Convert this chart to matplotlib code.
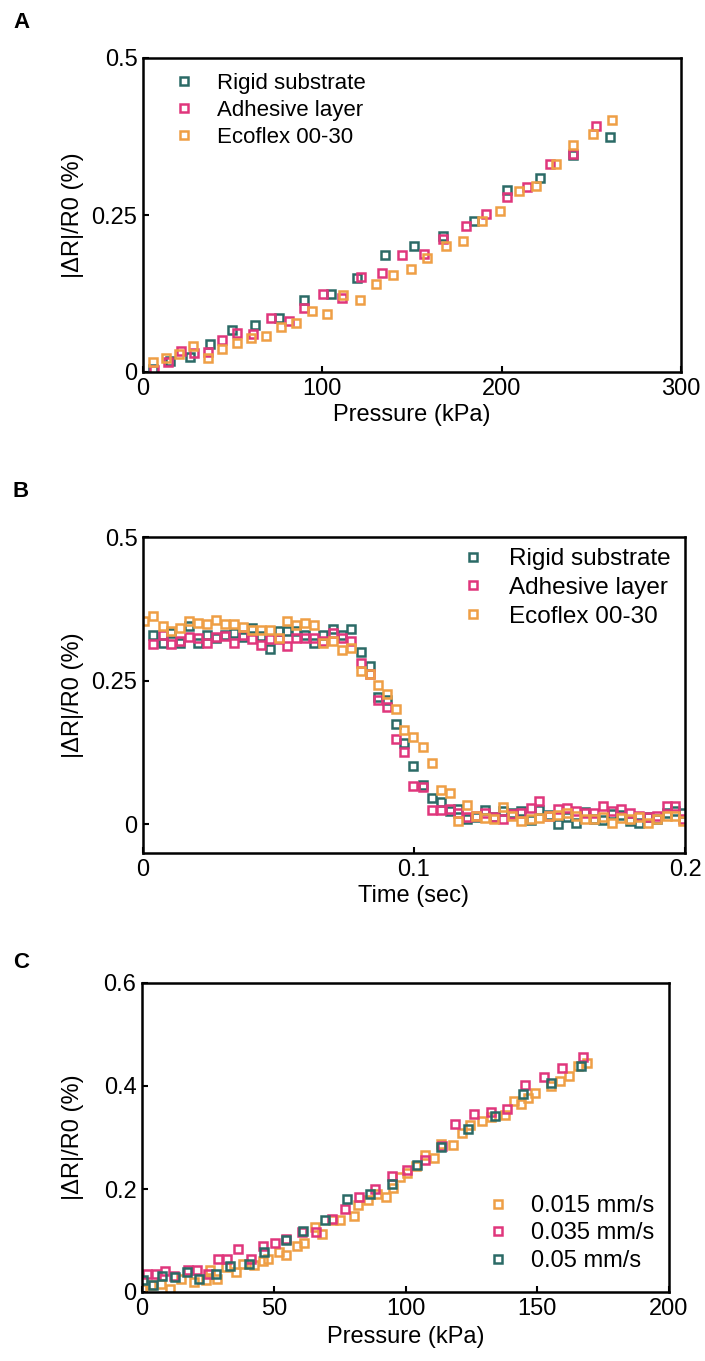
import matplotlib
matplotlib.use("Agg")
import matplotlib.pyplot as plt

plt.rcParams['font.family'] = ['Liberation Sans', 'DejaVu Sans']

TEAL = '#2b6a66'
PINK = '#e0367c'
ORANGE = '#ef9f45'

# ---------------- Panel A data ----------------
a_rigid_x = [5.6, 15, 26, 37.5, 49.5, 62.4, 75.8, 89.7, 104.7, 119.6, 135.2, 151, 167.5, 184.8, 202.8, 221.3, 239.7, 260.4]
a_rigid_y = [0.005, 0.0175, 0.024, 0.045, 0.067, 0.075, 0.086, 0.114, 0.125, 0.149, 0.186, 0.200, 0.216, 0.240, 0.290, 0.309, 0.346, 0.375]
a_adh_x = [6, 14, 21, 28.3, 36, 44.3, 52.2, 61.4, 71.4, 81.4, 90, 100.1, 110.7, 121.6, 133.2, 144.6, 156.5, 167.5, 179.9, 191, 202.8, 214, 226.7, 239.7, 252.8]
a_adh_y = [0.003, 0.016, 0.033, 0.031, 0.032, 0.051, 0.062, 0.061, 0.086, 0.081, 0.102, 0.125, 0.118, 0.152, 0.158, 0.187, 0.188, 0.212, 0.232, 0.251, 0.279, 0.294, 0.331, 0.347, 0.391]
a_eco_x = [5.6, 13, 20, 28, 36, 43.9, 52.2, 60.4, 68.8, 76.8, 85.1, 94.1, 102.7, 111.3, 121, 130.2, 139.6, 149.2, 158.5, 168.9, 178.5, 189, 198.8, 209.4, 219.3, 230.3, 239.7, 250.8, 261.6]
a_eco_y = [0.016, 0.023, 0.028, 0.042, 0.023, 0.036, 0.046, 0.054, 0.058, 0.071, 0.078, 0.097, 0.093, 0.122, 0.114, 0.140, 0.155, 0.164, 0.182, 0.200, 0.209, 0.240, 0.257, 0.289, 0.296, 0.332, 0.362, 0.379, 0.402]

# ---------------- Panel B data ----------------
b_rigid_t = [0.0037, 0.0072, 0.0105, 0.0138, 0.0171, 0.0204, 0.0237, 0.0270, 0.0303, 0.0336,
             0.0368, 0.0401, 0.0434, 0.0467, 0.0500, 0.0533, 0.0566, 0.0599, 0.0632, 0.0664,
             0.0701, 0.0734, 0.0767, 0.0803, 0.0836, 0.0866, 0.0899, 0.0932, 0.0964, 0.0997,
             0.1033, 0.1066, 0.1099, 0.1132, 0.1164, 0.1197, 0.1230, 0.1263, 0.1296, 0.1329,
             0.1362, 0.1395, 0.1432, 0.1461, 0.1497, 0.1533, 0.1566, 0.1599, 0.1632, 0.1664,
             0.1697, 0.1730, 0.1763, 0.1796, 0.1829, 0.1862, 0.1895, 0.1932, 0.1964, 0.1993]
b_rigid_y = [0.330, 0.315, 0.333, 0.316, 0.345, 0.316, 0.330, 0.325, 0.330, 0.333,
             0.326, 0.342, 0.328, 0.305, 0.336, 0.337, 0.336, 0.330, 0.315, 0.330,
             0.340, 0.329, 0.340, 0.300, 0.276, 0.222, 0.216, 0.175, 0.141, 0.102,
             0.069, 0.046, 0.039, 0.023, 0.026, 0.010, 0.013, 0.024, 0.013, 0.023,
             0.020, 0.023, 0.007, 0.024, 0.016, 0.001, 0.013, 0.003, 0.021, 0.010,
             0.007, 0.018, 0.016, 0.006, 0.003, 0.013, 0.009, 0.020, 0.023, 0.020]
b_adh_t = b_rigid_t
b_adh_y = [0.313, 0.330, 0.313, 0.319, 0.326, 0.325, 0.316, 0.326, 0.328, 0.316,
           0.329, 0.322, 0.312, 0.322, 0.322, 0.310, 0.325, 0.324, 0.325, 0.319,
           0.333, 0.325, 0.319, 0.280, 0.261, 0.216, 0.204, 0.149, 0.126, 0.066,
           0.065, 0.024, 0.024, 0.026, 0.020, 0.013, 0.014, 0.020, 0.013, 0.009,
           0.018, 0.020, 0.029, 0.041, 0.014, 0.026, 0.029, 0.023, 0.020, 0.020,
           0.032, 0.023, 0.026, 0.020, 0.014, 0.013, 0.014, 0.032, 0.032, 0.009]
b_eco_t = [0.0003] + b_rigid_t
b_eco_y = [0.353, 0.362, 0.345, 0.336, 0.342, 0.353, 0.351, 0.348, 0.355, 0.349, 0.349,
           0.343, 0.339, 0.339, 0.339, 0.325, 0.353, 0.347, 0.351, 0.347, 0.316,
           0.319, 0.303, 0.306, 0.267, 0.261, 0.243, 0.227, 0.200, 0.164, 0.152,
           0.134, 0.106, 0.060, 0.055, 0.006, 0.033, 0.014, 0.011, 0.009, 0.030,
           0.014, 0.006, 0.009, 0.011, 0.014, 0.017, 0.020, 0.014, 0.010, 0.009,
           0.013, 0.003, 0.011, 0.009, 0.013, 0.003, 0.009, 0.014, 0.014, 0.006]

# ---------------- Panel C data ----------------
c_015_x = [0, 3.4, 7.4, 10.8, 14.9, 19.6, 24.3, 25.7, 28.4, 31.8, 35.8, 38.5, 42.6, 45.9, 48, 52, 54.7,
           58.8, 61.5, 65.5, 68.2, 72.3, 75, 80.4, 81.8, 85.8, 89.2, 92.6, 95.3, 98, 100.7, 104.1,
           107.4, 110.8, 113.5, 118.2, 121.6, 124.3, 129, 132.4, 137.8, 141.2, 143.9, 146.6, 149.3,
           155.4, 158.8, 162.2, 165.5, 168.9]
c_015_y = [0.006, 0.013, 0.016, 0.006, 0.026, 0.019, 0.023, 0.042, 0.026, 0.048, 0.039, 0.055, 0.052,
           0.061, 0.065, 0.077, 0.071, 0.090, 0.095, 0.127, 0.113, 0.139, 0.140, 0.148, 0.168, 0.179,
           0.190, 0.185, 0.202, 0.223, 0.232, 0.245, 0.266, 0.261, 0.287, 0.286, 0.308, 0.325, 0.332,
           0.340, 0.344, 0.371, 0.366, 0.377, 0.387, 0.400, 0.410, 0.419, 0.439, 0.445]
c_035_x = [2, 5.4, 8.8, 12.2, 17.6, 20.9, 25, 28.8, 32.4, 36.5, 41.2, 45.9, 50.4, 54.7, 60.8, 66.2, 72,
           77, 82.4, 88.5, 95, 100.7, 107.4, 113.9, 118.9, 126.1, 132.4, 138.5, 145.3, 152.4, 159.5, 167.3]
c_035_y = [0.035, 0.035, 0.041, 0.032, 0.042, 0.042, 0.034, 0.065, 0.065, 0.083, 0.065, 0.090, 0.095,
           0.103, 0.117, 0.117, 0.142, 0.161, 0.185, 0.200, 0.226, 0.237, 0.256, 0.284, 0.326, 0.345,
           0.350, 0.355, 0.402, 0.417, 0.435, 0.456]
c_05_x = [0.4, 4.1, 7.7, 12.4, 16.9, 21.6, 28, 33.4, 40.5, 46.4, 54.5, 61.2, 69.3, 77.7, 86.5, 95,
          104.5, 113.5, 123.6, 133.8, 144.6, 155.4, 166.5]
c_05_y = [0.023, 0.013, 0.032, 0.029, 0.039, 0.026, 0.035, 0.050, 0.055, 0.077, 0.101, 0.119, 0.140,
          0.181, 0.190, 0.210, 0.247, 0.282, 0.316, 0.342, 0.384, 0.406, 0.439]

W, H = 705, 1361
fig = plt.figure(figsize=(W / 100, H / 100), dpi=100)


def px_axes(l, r, t, b):
    return fig.add_axes([l / W, 1 - b / H, (r - l) / W, (b - t) / H])


MS = 5.8
MEW = 1.8
FS = 17


def pts(ax, x, y, c, label):
    ax.plot(x, y, ls='none', marker='s', ms=MS, mfc='none', mec=c, mew=MEW, label=label)


def style(ax, left_px):
    for s in ax.spines.values():
        s.set_linewidth(1.8)
    ax.tick_params(direction='in', length=4, width=1.5, labelsize=FS, pad=4)
    bb = ax.get_position()
    # right edge of the rotated y label at ~84 px from the figure's left edge
    ax.yaxis.set_label_coords((84 - left_px) / (bb.width * W), 0.5)


axA = px_axes(143, 681, 58, 372)
pts(axA, a_rigid_x, a_rigid_y, TEAL, 'Rigid substrate')
pts(axA, a_adh_x, a_adh_y, PINK, 'Adhesive layer')
pts(axA, a_eco_x, a_eco_y, ORANGE, 'Ecoflex 00-30')
axA.set_xlim(0, 300)
axA.set_ylim(0, 0.5)
axA.set_xticks([0, 100, 200, 300])
axA.set_yticks([0, 0.25, 0.5])
axA.set_yticklabels(['0', '0.25', '0.5'])
axA.set_xlabel('Pressure (kPa)', fontsize=FS, labelpad=3)
axA.set_ylabel('|ΔR|/R0 (%)', fontsize=FS)
style(axA, 143)
axA.legend(loc='upper left', bbox_to_anchor=(173 / W, 1 - 73 / H), bbox_transform=fig.transFigure,
           frameon=False, fontsize=16, handlelength=1.0, handletextpad=0.99, labelspacing=0.26,
           borderpad=0, borderaxespad=0, numpoints=1)

axB = px_axes(143, 685, 537, 853)
pts(axB, b_rigid_t, b_rigid_y, TEAL, 'Rigid substrate')
pts(axB, b_adh_t, b_adh_y, PINK, 'Adhesive layer')
pts(axB, b_eco_t, b_eco_y, ORANGE, 'Ecoflex 00-30')
axB.set_xlim(0, 0.2)
axB.set_ylim(-0.05, 0.5)
axB.set_xticks([0, 0.1, 0.2])
axB.set_xticklabels(['0', '0.1', '0.2'])
axB.set_yticks([0, 0.25, 0.5])
axB.set_yticklabels(['0', '0.25', '0.5'])
axB.set_xlabel('Time (sec)', fontsize=FS, labelpad=3)
axB.set_ylabel('|ΔR|/R0 (%)', fontsize=FS)
style(axB, 143)
axB.legend(loc='upper left', bbox_to_anchor=(461 / W, 1 - 548 / H), bbox_transform=fig.transFigure,
           frameon=False, fontsize=17.5, handlelength=1.0, handletextpad=0.96, labelspacing=0.28,
           borderpad=0, borderaxespad=0, numpoints=1)

axC = px_axes(142, 669, 983, 1292)
pts(axC, c_015_x, c_015_y, ORANGE, '0.015 mm/s')
pts(axC, c_035_x, c_035_y, PINK, '0.035 mm/s')
pts(axC, c_05_x, c_05_y, TEAL, '0.05 mm/s')
axC.set_xlim(0, 200)
axC.set_ylim(0, 0.6)
axC.set_xticks([0, 50, 100, 150, 200])
axC.set_yticks([0, 0.2, 0.4, 0.6])
axC.set_yticklabels(['0', '0.2', '0.4', '0.6'])
axC.set_xlabel('Pressure (kPa)', fontsize=FS, labelpad=5)
axC.set_ylabel('|ΔR|/R0 (%)', fontsize=FS)
style(axC, 142)
axC.legend(loc='upper left', bbox_to_anchor=(486 / W, 1 - 1195 / H), bbox_transform=fig.transFigure,
           frameon=False, fontsize=17, handlelength=1.0, handletextpad=0.92, labelspacing=0.23,
           borderpad=0, borderaxespad=0, numpoints=1)

for letter, y in [('A', 22), ('B', 492), ('C', 962)]:
    fig.text(21 / W, 1 - y / H, letter, fontsize=16, fontweight='bold', ha='center', va='center')

fig.savefig('out.png', dpi=100)
